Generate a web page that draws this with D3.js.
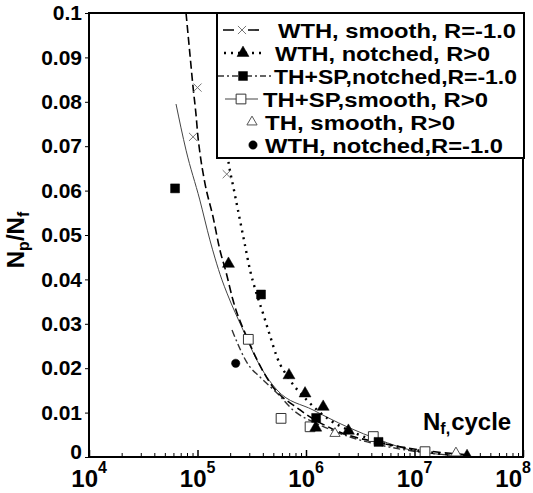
<!DOCTYPE html>
<html><head><meta charset="utf-8">
<script src="https://cdn.jsdelivr.net/npm/d3@7"></script>
<style>
html,body{margin:0;padding:0;background:#fff;}
svg{display:block;font-family:"Liberation Sans",Arial,sans-serif;font-weight:bold;}
</style></head>
<body><svg id="c" width="533" height="493"></svg>
<script>
// ---------- data ----------
const xTickExponents = [4, 5, 6, 7, 8];
const yTickValues = [0, 0.01, 0.02, 0.03, 0.04, 0.05, 0.06, 0.07, 0.08, 0.09, 0.1];
const yTickLabels = ["0", "0.01", "0.02", "0.03", "0.04", "0.05", "0.06", "0.07", "0.08", "0.09", "0.1"];

const legendLabels = ["WTH, smooth, R=-1.0", "WTH, notched, R>0", "TH+SP,notched,R=-1.0",
  "TH+SP,smooth, R>0", "TH, smooth, R>0", "WTH, notched,R=-1.0"];

// fitted curves [Nf, Np/Nf]
const curveWTHSmooth = [[7.84e4,0.1],[8.53e4,0.0905],[9.1e4,0.0833],[9.7e4,0.0770],[1.01e5,0.0721],
  [1.05e5,0.0687],[1.17e5,0.0617],[1.39e5,0.0541],[1.61e5,0.0466],[1.83e5,0.0417],[2.12e5,0.0354],
  [2.92e5,0.0264],[4.66e5,0.0167],[8.81e5,0.0106],[2.06e6,0.0056],[4.81e6,0.0032],[1.12e7,0.0016],[3.05e7,0.0005]];
const curveWTHNotchedPos = [[1.75e5,0.0759],[1.91e5,0.0673],[2.17e5,0.0601],[2.46e5,0.0534],[2.74e5,0.0477],
  [3.05e5,0.0421],[3.46e5,0.0372],[4.01e5,0.0324],[4.66e5,0.0273],[5.40e5,0.0225],[7.13e5,0.0173],
  [1.02e6,0.0128],[1.66e6,0.0083],[2.55e6,0.0059],[4.15e6,0.0038],[1.12e7,0.0014],[3.05e7,0.0002]];
const curveTHSPNotched = [[2.08e5,0.0286],[2.92e5,0.0209],[3.77e5,0.0180],[5.40e5,0.0144],[7.59e5,0.0106],
  [1.35e6,0.0072],[2.55e6,0.0045],[4.81e6,0.0027],[1.12e7,0.0011],[3.05e7,0.0002]];
const curveTHSPSmooth = [[6.34e4,0.0795],[7.84e4,0.0691],[1.05e5,0.0579],[1.30e5,0.0489],[1.45e5,0.0448],
  [1.68e5,0.0399],[1.87e5,0.0369],[2.63e5,0.0286],[3.53e5,0.0218],[5.40e5,0.0151],[1.16e6,0.0106],
  [2.39e6,0.0068],[4.81e6,0.0038],[9.1e6,0.0016],[3.05e7,0.0002]];

// measured points [Nf, Np/Nf]
const ptsWTHSmooth = [[1.0e5,0.0832],[9.1e4,0.0721],[1.86e5,0.0637]];
const ptsWTHNotchedPos = [[1.93e5,0.0435],[6.97e5,0.0184],[9.8e5,0.0143],[1.44e6,0.0113],[1.23e6,0.0066],[2.46e6,0.0059],[3.05e7,0.0002]];
const ptsTHSPNotched = [[6.21e4,0.0605],[3.85e5,0.0366],[1.24e6,0.0088],[4.66e6,0.0034]];
const ptsTHSPSmooth = [[2.94e5,0.0265],[5.89e5,0.0087],[1.09e6,0.0068],[4.17e6,0.0046],[1.25e7,0.0012]];
const ptsTHSmooth = [[1.85e6,0.0053],[2.41e7,0.0009]];
const ptsWTHNotchedNeg = [[2.25e5,0.0211]];

// ---------- chart ----------
const svg = d3.select("#c");
const L = 89, R = 523, T = 13, B = 457;
const x = d3.scaleLog().domain([1e4, 1e8]).range([L, R]);
const y = d3.scaleLinear().domain([0, 0.1]).range([B, T]);

svg.append("defs").append("clipPath").attr("id", "clip")
  .append("rect").attr("x", L).attr("y", T).attr("width", R - L).attr("height", B - T);

// styles
const sym = {
  cross: {type: d3.symbolTimes, size: 45, fill: "none", stroke: "#777", sw: 1},
  tri: {type: d3.symbolTriangle, size: 62, fill: "#000", stroke: "#000", sw: 0.5},
  sq: {type: d3.symbolSquare, size: 80, fill: "#000", stroke: "#000", sw: 0.5},
  osq: {type: d3.symbolSquare, size: 95, fill: "#fff", stroke: "#333", sw: 1},
  otri: {type: d3.symbolTriangle, size: 45, fill: "#fff", stroke: "#555", sw: 1},
  dot: {type: d3.symbolCircle, size: 55, fill: "#000", stroke: "#000", sw: 0.5}
};
const lineStyles = {
  dash: {stroke: "#000", sw: 1.6, dash: "8,4"},
  dot: {stroke: "#000", sw: 2.4, dash: "2,5"},
  dashdot: {stroke: "#333", sw: 1.4, dash: "7,3,2,3"},
  solid: {stroke: "#444", sw: 1, dash: null}
};

const line = d3.line().x(d => x(d[0])).y(d => y(d[1])).curve(d3.curveMonotoneX);
const plot = svg.append("g").attr("clip-path", "url(#clip)");
function drawCurve(data, st) {
  plot.append("path").datum(data).attr("d", line).attr("fill", "none")
    .attr("stroke", st.stroke).attr("stroke-width", st.sw)
    .attr("stroke-dasharray", st.dash);
}
drawCurve(curveTHSPSmooth, lineStyles.solid);
drawCurve(curveTHSPNotched, lineStyles.dashdot);
drawCurve(curveWTHSmooth, lineStyles.dash);
drawCurve(curveWTHNotchedPos, lineStyles.dot);

function drawPts(data, s) {
  plot.append("g").selectAll("path").data(data).join("path")
    .attr("transform", d => `translate(${x(d[0])},${y(d[1])})`)
    .attr("d", d3.symbol().type(s.type).size(s.size))
    .attr("fill", s.fill).attr("stroke", s.stroke).attr("stroke-width", s.sw);
}
drawPts(ptsTHSPSmooth, sym.osq);
drawPts(ptsTHSmooth, sym.otri);
drawPts(ptsWTHSmooth, sym.cross);
drawPts(ptsTHSPNotched, sym.sq);
drawPts(ptsWTHNotchedPos, sym.tri);
drawPts(ptsWTHNotchedNeg, sym.dot);

// axes
const yAxis = d3.axisLeft(y).tickValues(yTickValues).tickSize(4).tickPadding(3)
  .tickFormat((d, i) => yTickLabels[i]);
const gy = svg.append("g").attr("transform", `translate(${L},0)`).call(yAxis);
gy.select(".domain").remove();
gy.selectAll("text").attr("font-size", 21).attr("font-weight", "bold").attr("fill", "#000")
  .attr("font-family", '"Liberation Sans",Arial,sans-serif');
gy.selectAll(".tick").filter(d => d === 0).select("text").attr("dy", "0.05em");
gy.selectAll("line").attr("stroke", "#000").attr("stroke-width", 1);

const minorTicks = [];
for (let e = 4; e < 8; e++) for (let k = 2; k <= 9; k++) minorTicks.push(k * Math.pow(10, e));
const gxm = svg.append("g").attr("transform", `translate(0,${B})`)
  .call(d3.axisBottom(x).tickValues(minorTicks).tickSize(-4).tickFormat(""));
gxm.select(".domain").remove();
gxm.selectAll("line").attr("stroke", "#000");
const majors = xTickExponents.map(e => Math.pow(10, e));
const gx = svg.append("g").attr("transform", `translate(0,${B})`)
  .call(d3.axisBottom(x).tickValues(majors).tickSize(-7).tickFormat(""));
gx.select(".domain").remove();
gx.selectAll("line").attr("stroke", "#000").attr("stroke-width", 1.5);

// last label nudged left so its exponent stays inside the page
const xl = svg.append("g").selectAll("g").data(xTickExponents).join("g")
  .attr("transform", (e, i) => `translate(${x(Math.pow(10, e)) - (i === xTickExponents.length - 1 ? 1 : 0)},0)`);
xl.append("text").attr("x", (e, i) => i === xTickExponents.length - 1 ? 0 : 9).attr("y", 487)
  .attr("text-anchor", "end").attr("font-size", 24).text("10");
xl.append("text").attr("x", (e, i) => i === xTickExponents.length - 1 ? 0 : 9).attr("y", 473)
  .attr("font-size", 16).text(e => e);

// frame
svg.append("rect").attr("x", L).attr("y", T).attr("width", R - L).attr("height", B - T)
  .attr("fill", "none").attr("stroke", "#000").attr("stroke-width", 2);

// axis titles
const yt = svg.append("text").attr("transform", "translate(24,240) rotate(-90)")
  .attr("text-anchor", "middle").attr("font-size", 24);
yt.append("tspan").text("N");
yt.append("tspan").attr("font-size", 16).attr("dy", 5).text("p");
yt.append("tspan").attr("dy", -5).text("/N");
yt.append("tspan").attr("font-size", 16).attr("dy", 5).text("f");

const xt = svg.append("text").attr("x", 423).attr("y", 430).attr("font-size", 24);
xt.append("tspan").text("N");
xt.append("tspan").attr("font-size", 16).attr("dy", 4).text("f,");
xt.append("tspan").attr("dy", -4).attr("dx", 1).text("cycle");

// legend
const lg = svg.append("g");
lg.append("rect").attr("x", 217).attr("y", T).attr("width", 307).attr("height", 145)
  .attr("fill", "#fff").attr("stroke", "#000").attr("stroke-width", 2);
const legendRows = [
  {line: lineStyles.dash, x1: 223, x2: 260, s: sym.cross, sx: 242, tx: 278, tw: 238, dash: "11,14"},
  {line: lineStyles.dot, x1: 224, x2: 266, s: sym.tri, sx: 243, tx: 275, tw: 215, dash: "2,5"},
  {line: lineStyles.dashdot, x1: 218, x2: 272, s: sym.sq, sx: 243, tx: 274, tw: 243, dash: "6,3,2,3"},
  {line: lineStyles.solid, x1: 225, x2: 258, s: sym.osq, sx: 241, tx: 263, tw: 225, dash: null},
  {line: null, s: sym.otri, sx: 252, tx: 265, tw: 190},
  {line: null, s: sym.dot, sx: 253, tx: 265, tw: 238}
];
legendRows.forEach((r, i) => {
  const cy = 30 + i * 23;
  if (r.line) {
    lg.append("line").attr("x1", r.x1).attr("x2", r.x2).attr("y1", cy).attr("y2", cy)
      .attr("stroke", r.line.stroke).attr("stroke-width", r.line.sw === 1 ? 1.2 : r.line.sw)
      .attr("stroke-dasharray", r.dash);
  }
  lg.append("path").attr("transform", `translate(${r.sx},${cy})`)
    .attr("d", d3.symbol().type(r.s.type).size(r.s.size))
    .attr("fill", r.s.fill).attr("stroke", r.s.stroke).attr("stroke-width", r.s.sw);
  lg.append("text").attr("x", r.tx).attr("y", cy + 7.5).attr("font-size", 21)
    .attr("textLength", r.tw).attr("lengthAdjust", "spacingAndGlyphs").text(legendLabels[i]);
});
</script></body></html>
